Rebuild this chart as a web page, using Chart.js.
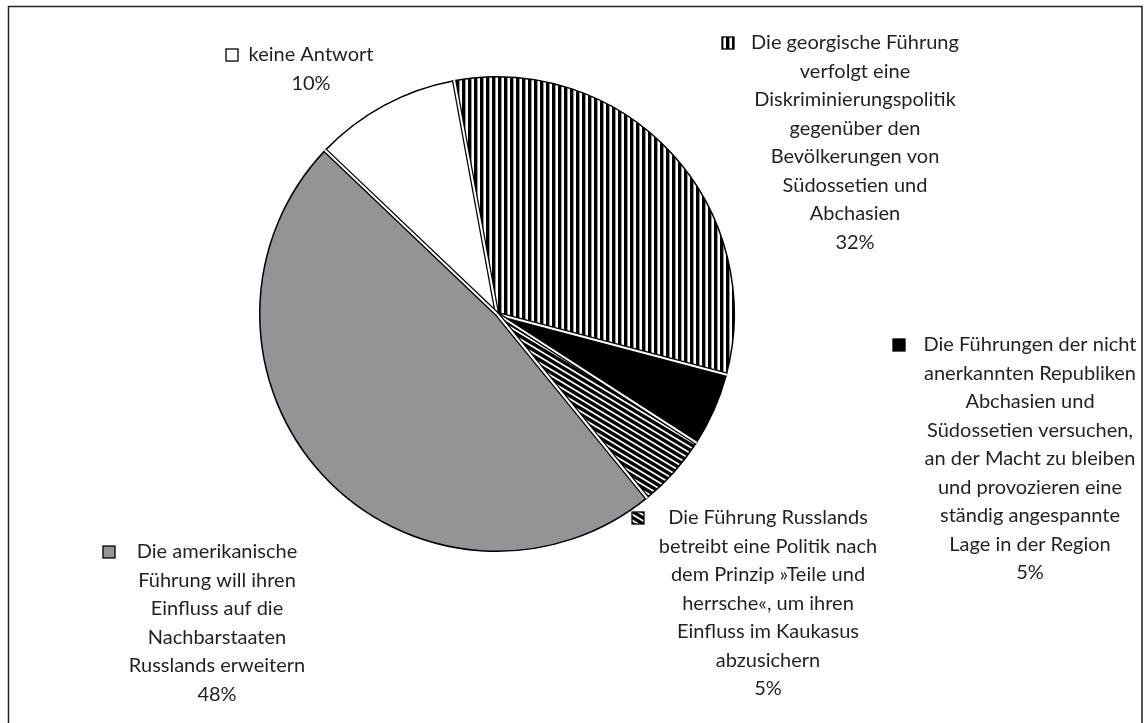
<!DOCTYPE html>
<html>
<head>
<meta charset="utf-8">
<script src="https://cdn.jsdelivr.net/npm/chart.js@4.4.0/dist/chart.umd.min.js"></script>
<style>
  html, body { margin: 0; padding: 0; background: #fff; }
</style>
</head>
<body>
<canvas id="chart" width="1146" height="723"></canvas>
<script>
// Werte aus der Grafik (Prozent), im Uhrzeigersinn ab oben
const kategorien = [
    ['Die georgische Führung', 'verfolgt eine', 'Diskriminierungspolitik', 'gegenüber den', 'Bevölkerungen von', 'Südossetien und', 'Abchasien'],
    ['Die Führungen der nicht', 'anerkannten Republiken', 'Abchasien und', 'Südossetien versuchen,', 'an der Macht zu bleiben', 'und provozieren eine', 'ständig angespannte', 'Lage in der Region'],
    ['Die Führung Russlands', 'betreibt eine Politik nach', 'dem Prinzip »Teile und', 'herrsche«, um ihren', 'Einfluss im Kaukasus', 'abzusichern'],
    ['Die amerikanische', 'Führung will ihren', 'Einfluss auf die', 'Nachbarstaaten', 'Russlands erweitern'],
    ['keine Antwort']
];
const werte = [32, 5, 5, 48, 10];

// Position der Beschriftungen: Mitte des Textblocks, erste Zeile, Kästchen links
const beschriftungPos = [
    { cx: 855, y: 43, mx: 722 },
    { cx: 1030, y: 345, mx: 893 },
    { cx: 768, y: 518, mx: 632 },
    { cx: 217, y: 552, mx: 103 },
    { cx: 311, y: 55, mx: 226 }
];

function streifenMuster() {
    let c = document.createElement('canvas');
    c.width = 6; c.height = 6;
    let g = c.getContext('2d');
    g.fillStyle = '#fff'; g.fillRect(0, 0, 6, 6);
    g.fillStyle = '#000'; g.fillRect(0, 0, 3.4, 6);
    return g.createPattern(c, 'repeat');
}

function schraegMuster() {
    let c = document.createElement('canvas');
    c.width = 10; c.height = 6;
    let g = c.getContext('2d');
    g.fillStyle = '#fff'; g.fillRect(0, 0, 10, 6);
    g.strokeStyle = '#000'; g.lineWidth = 3.4;
    for (let k = -18; k <= 18; k += 6) {
        g.beginPath();
        g.moveTo(-10, -6 + k);
        g.lineTo(20, 12 + k);
        g.stroke();
    }
    return g.createPattern(c, 'repeat');
}

const farben = [streifenMuster(), '#000000', schraegMuster(), '#939398', '#ffffff'];

const trennlinien = {
    id: 'trennlinien',
    afterDatasetsDraw(chart) {
        const ctx = chart.ctx;
        chart.getDatasetMeta(0).data.forEach((arc) => {
            const p = arc.getProps(['x', 'y', 'startAngle', 'outerRadius'], true);
            const ex = p.x + Math.cos(p.startAngle) * (p.outerRadius + 0.5);
            const ey = p.y + Math.sin(p.startAngle) * (p.outerRadius + 0.5);
            ctx.save();
            ctx.lineCap = 'butt';
            ctx.beginPath(); ctx.moveTo(p.x, p.y); ctx.lineTo(ex, ey);
            ctx.strokeStyle = '#000'; ctx.lineWidth = 4.5; ctx.stroke();
            ctx.beginPath(); ctx.moveTo(p.x, p.y); ctx.lineTo(ex, ey);
            ctx.strokeStyle = '#fff'; ctx.lineWidth = 2; ctx.stroke();
            ctx.restore();
        });
    }
};

const beschriftung = {
    id: 'beschriftung',
    afterDraw(chart) {
        const ctx = chart.ctx;
        ctx.save();
        // Rahmen
        ctx.strokeStyle = '#222';
        ctx.lineWidth = 1.5;
        ctx.beginPath();
        ctx.moveTo(8.5, 723); ctx.lineTo(8.5, 6.5); ctx.lineTo(1142, 6.5); ctx.lineTo(1142, 723);
        ctx.stroke();
        ctx.beginPath(); ctx.rect(0, 0, 1141, 723); ctx.clip();

        ctx.font = '20px Lato';
        ctx.fillStyle = '#231f20';
        ctx.textAlign = 'center';
        ctx.textBaseline = 'middle';
        const zeilenAbstand = 28.5;
        kategorien.forEach((zeilen, i) => {
            const pos = beschriftungPos[i];
            const alle = zeilen.concat([werte[i] + '%']);
            alle.forEach((z, j) => ctx.fillText(z, pos.cx, pos.y + j * zeilenAbstand));
            // Kästchen
            ctx.fillStyle = farben[i];
            ctx.fillRect(pos.mx, pos.y - 6, 12, 12);
            ctx.strokeStyle = '#000'; ctx.lineWidth = 1.3;
            ctx.strokeRect(pos.mx, pos.y - 6, 12, 12);
            ctx.fillStyle = '#231f20';
        });
        ctx.restore();
    }
};

new Chart(document.getElementById('chart'), {
    type: 'pie',
    data: {
        labels: kategorien.map((z) => z.join(' ')),
        datasets: [{
            data: werte,
            backgroundColor: farben,
            borderColor: '#000',
            borderWidth: 1.5
        }]
    },
    options: {
        responsive: false,
        animation: false,
        rotation: -10.4,
        layout: { padding: { left: 259, right: 411, top: 76, bottom: 171 } },
        plugins: { legend: { display: false }, tooltip: { enabled: false } }
    },
    plugins: [trennlinien, beschriftung]
});
</script>
</body>
</html>
